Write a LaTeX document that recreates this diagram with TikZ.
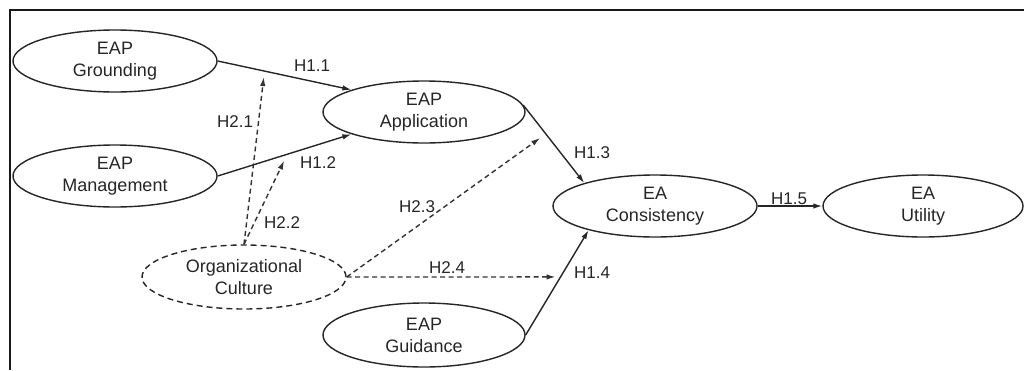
\documentclass[tikz,border=0pt]{standalone}
\usepackage{fontspec}
\setmainfont{Liberation Sans}
\usetikzlibrary{shapes.geometric,arrows.meta}
\begin{document}
\begin{tikzpicture}[x=1pt,y=-1pt,
  ell/.style={ellipse, draw=black!85, line width=1.4pt, inner sep=0pt, align=center,
    font=\fontsize{18}{22}\selectfont, text=black!85},
  ellw/.style={ell, minimum width=204pt, minimum height=62pt},
  sol/.style={line width=1.4pt, draw=black!85, -{Latex[length=9pt,width=5.5pt]}},
  dsh/.style={line width=1.4pt, draw=black!80, dash pattern=on 5pt off 3.5pt, -{Latex[length=9pt,width=5.5pt]}},
  lab/.style={font=\fontsize{17}{20}\selectfont, text=black!85, inner sep=0pt},
]
\useasboundingbox (0,0) rectangle (1024,370);
\fill[white] (0,0) rectangle (1024,370);
\draw[line width=2pt, black!90] (10,370) -- (10,10) -- (1024,10);

\node[ellw] (G) at (115,61) {EAP\\Grounding};
\node[ellw] (M) at (115,176) {EAP\\Management};
\node[ell, minimum width=202pt, minimum height=62pt] (A) at (424,112) {EAP\\Application};
\node[ellw, dash pattern=on 6pt off 4pt, minimum height=64pt] (C) at (244,277) {Organizational\\Culture};
\node[ell, minimum width=202pt, minimum height=64pt] (Gd) at (424,335) {EAP\\Guidance};
\node[ellw] (Cs) at (655,206) {EA\\Consistency};
\node[ell, minimum width=200pt, minimum height=62pt] (U) at (923,206) {EA\\Utility};

\draw[sol] (G.east) -- coordinate[pos=0.35] (p1) (A.163);
\draw[sol] (M.east) -- coordinate[pos=0.52] (p2) (A.197);
\draw[sol] (A.4) -- coordinate[pos=0.37] (p3) (Cs.162);
\draw[sol] (Gd.east) -- coordinate[pos=0.554] (p4) (Cs.200);
\draw[sol] (Cs.east) -- (U.west);

\draw[dsh, shorten >=6pt] (C.north) -- (p1);
\draw[dsh, shorten >=7pt] (C.north) -- (p2);
\draw[dsh, shorten >=7pt] (C.east) -- (p3);
\draw[dsh, shorten >=5pt] (C.east) -- (p4);

\node[lab] (l11) at (312,66) {H1.1};
\node[lab] (l12) at (318,163) {H1.2};
\node[lab] (l13) at (592,153) {H1.3};
\node[lab] (l14) at (592,273) {H1.4};
\node[lab] (l15) at (789,199) {H1.5};
\node[lab] (l21) at (235,122) {H2.1};
\node[lab] (l22) at (282,223) {H2.2};
\node[lab] (l23) at (417,207) {H2.3};
\node[lab] (l24) at (447,268) {H2.4};
\end{tikzpicture}
\end{document}
